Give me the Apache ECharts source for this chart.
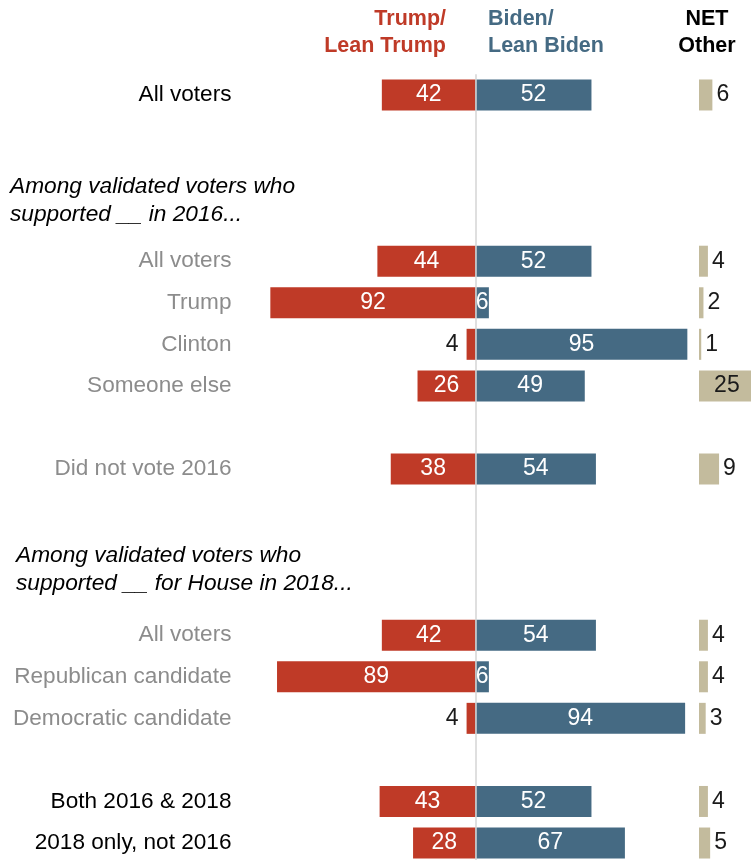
<!DOCTYPE html>
<html>
<head>
<meta charset="utf-8">
<script src="https://cdn.jsdelivr.net/npm/echarts@6/dist/echarts.min.js"></script>
<style>
  html, body { margin: 0; padding: 0; background: #fff; }
  #chart { width: 751px; height: 860px; }
</style>
</head>
<body>
<div id="chart"></div>
<script>
// Row labels; blank rows leave room for group headings and spacing
const categories = [
  'All voters', '', '', '',
  'All voters', 'Trump', 'Clinton', 'Someone else', '',
  'Did not vote 2016', '', '', '',
  'All voters', 'Republican candidate', 'Democratic candidate', '',
  'Both 2016 & 2018', '2018 only, not 2016'
];
const trumpValues = [42, null, null, null, 44, 92, 4, 26, null, 38, null, null, null, 42, 89, 4, null, 43, 28];
const bidenValues = [52, null, null, null, 52, 6, 95, 49, null, 54, null, null, null, 54, 6, 94, null, 52, 67];
const otherValues = [6, null, null, null, 4, 2, 1, 25, null, 9, null, null, null, 4, 4, 3, null, 4, 5];
const darkRows = [0, 17, 18];
const headerTrump = ['Trump/', 'Lean Trump'];
const headerBiden = ['Biden/', 'Lean Biden'];
const headerOther = ['NET', 'Other'];
const groupHeadings = [
  ['Among validated voters who', 'supported __ in 2016...'],
  ['Among validated voters who', 'supported __ for House in 2018...']
];

const RED = '#bf3a27', BLUE = '#456a83', TAN = '#c3bb9d', GREY = '#8c8c8c';
const FONT = '"Liberation Sans", Arial, sans-serif';
const VALUE_SIZE = 23;

const chart = echarts.init(document.getElementById('chart'));

const rowKeys = categories.map((_, i) => 'r' + i);
const gridTop = 74.2, gridHeight = 789.6;

function trumpItem(v) {
  if (v == null) return null;
  const item = { value: -v };
  if (v < 8) {
    item.label = { position: 'left', color: '#1a1a1a', distance: 8 };
  }
  return item;
}
function otherItem(v) {
  if (v == null) return null;
  const item = { value: v };
  if (v >= 15) item.label = { position: 'inside' };
  return item;
}

const headerText = (lines, x, align, color) => lines.map((t, i) => ({
  type: 'text',
  left: align === 'left' ? x : undefined,
  right: align === 'right' ? 751 - x : undefined,
  top: 8 + i * 27,
  style: { text: t, fill: color, font: 'bold 21.5px ' + FONT, textAlign: align }
}));

const graphics = [
  ...headerText(headerTrump, 446, 'right', RED),
  ...headerText(headerBiden, 488, 'left', BLUE),
  ...headerOther.map((t, i) => ({
    type: 'text', x: 707, y: 8 + i * 27,
    style: { text: t, fill: '#000', font: 'bold 21.5px ' + FONT, textAlign: 'center' }
  })),
  ...groupHeadings[0].map((t, i) => ({
    type: 'text', x: 10, y: 175 + i * 28,
    style: { text: t, fill: '#000', font: 'italic 22.7px ' + FONT }
  })),
  ...groupHeadings[1].map((t, i) => ({
    type: 'text', x: 16, y: 544 + i * 28,
    style: { text: t, fill: '#000', font: 'italic 22.7px ' + FONT }
  }))
];

chart.setOption({
  animation: false,
  backgroundColor: '#fff',
  textStyle: { fontFamily: FONT },
  grid: [
    { left: 252.5, width: 446, top: gridTop, height: gridHeight, outerBoundsMode: 'none' },
    { left: 699, width: 66.9, top: gridTop, height: gridHeight, outerBoundsMode: 'none' }
  ],
  xAxis: [
    { gridIndex: 0, type: 'value', min: -100, max: 100, show: false },
    { gridIndex: 1, type: 'value', min: 0, max: 30, show: false }
  ],
  yAxis: [
    {
      gridIndex: 0, type: 'category', inverse: true, data: rowKeys,
      axisLine: { show: false }, axisTick: { show: false }, splitLine: { show: false },
      axisLabel: {
        margin: 21,
        fontSize: 22.6,
        fontFamily: FONT,
        formatter: (v, i) => categories[i],
        color: (v, i) => darkRows.includes(i) ? '#000' : GREY
      }
    },
    { gridIndex: 1, type: 'category', inverse: true, data: rowKeys, show: false }
  ],
  series: [
    {
      name: 'Trump/Lean Trump', type: 'bar', xAxisIndex: 0, yAxisIndex: 0,
      data: trumpValues.map(trumpItem),
      barWidth: 31, barGap: '-100%',
      itemStyle: { color: RED },
      label: {
        show: true, position: 'inside', color: '#fff', fontSize: VALUE_SIZE, fontFamily: FONT,
        formatter: p => Math.abs(p.value)
      }
    },
    {
      name: 'Biden/Lean Biden', type: 'bar', xAxisIndex: 0, yAxisIndex: 0,
      data: bidenValues,
      barWidth: 31, barGap: '-100%',
      itemStyle: { color: BLUE },
      label: { show: true, position: 'inside', color: '#fff', fontSize: VALUE_SIZE, fontFamily: FONT },
      markLine: {
        silent: true, symbol: 'none', label: { show: false },
        lineStyle: { color: '#d4d4d4', width: 1.5, type: 'solid' },
        data: [{ xAxis: 0 }],
        z: 10
      }
    },
    {
      name: 'NET Other', type: 'bar', xAxisIndex: 1, yAxisIndex: 1,
      data: otherValues.map(otherItem),
      barWidth: 31, clip: false,
      itemStyle: { color: TAN },
      label: { show: true, position: 'right', distance: 4, color: '#1a1a1a', fontSize: VALUE_SIZE, fontFamily: FONT }
    }
  ],
  graphic: graphics
});
</script>
</body>
</html>
